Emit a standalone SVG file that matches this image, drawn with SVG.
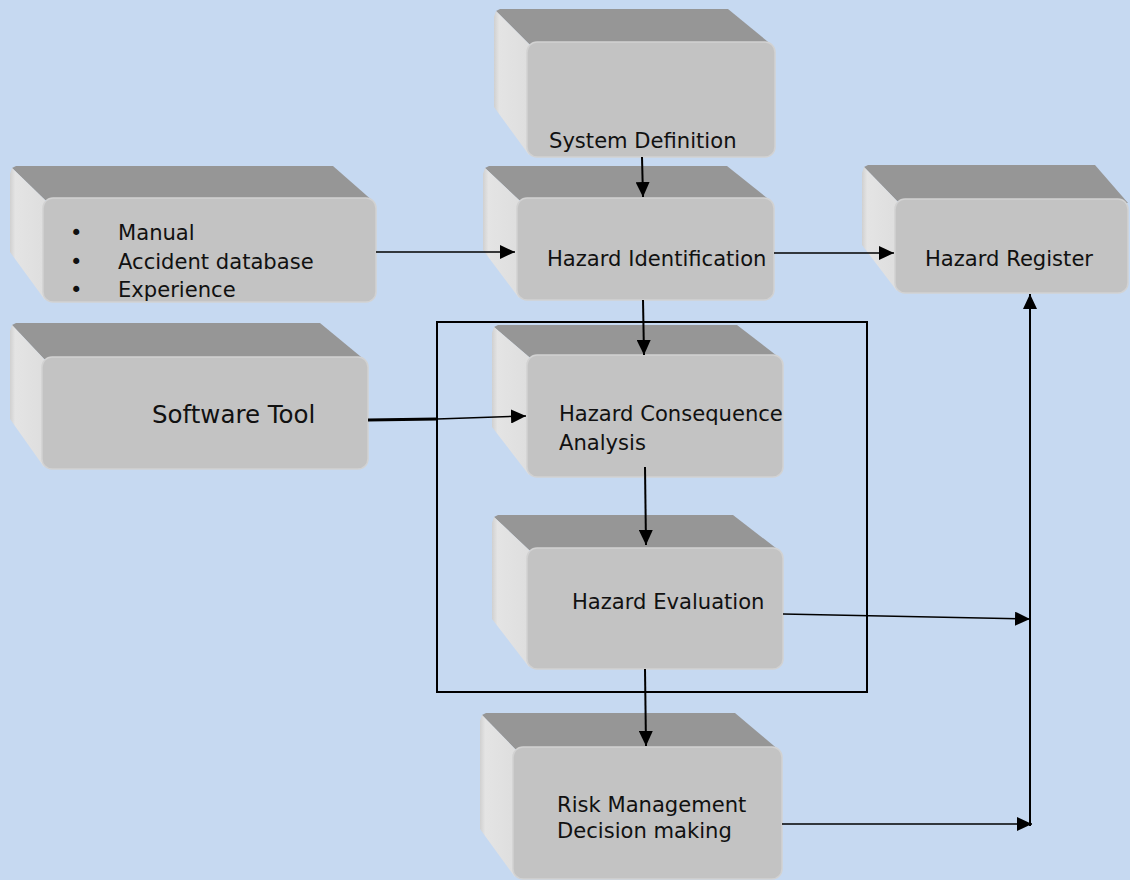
<svg xmlns="http://www.w3.org/2000/svg" width="1130" height="880" viewBox="0 0 1130 880">
<style>
.top{fill:#969696}
.left{fill:url(#lg)}
.front{fill:#c3c3c3;stroke:#d2d2d2;stroke-width:1.5}
text{font-family:"DejaVu Sans","Verdana",sans-serif;font-size:21.1px;fill:#111}
.ln{stroke:#000;stroke-width:2;fill:none}
.thin{stroke:#000;stroke-width:1.5;fill:none}
</style>
<defs>
<linearGradient id="lg" x1="0" y1="0" x2="1" y2="0">
<stop offset="0" stop-color="#d0d0d0"/>
<stop offset="0.15" stop-color="#e4e4e4"/>
<stop offset="1" stop-color="#dedede"/>
</linearGradient>
<marker id="arr" markerWidth="16" markerHeight="14" refX="15" refY="7" orient="auto" markerUnits="userSpaceOnUse">
<path d="M0,0 L15,7 L0,14 Z" fill="#000"/>
</marker>
</defs>
<rect width="1130" height="880" fill="#c6d9f1"/>

<g id="system-definition">
<polygon class="top" points="500,9 728,9 773,46 529,44 496,11"/>
<polygon class="left" points="496,11 529,44 529,155 494,107 494,17"/>
<rect class="front" x="527" y="42" width="248" height="115" rx="10"/>
<text x="549" y="148">System Definition</text>
</g>

<g id="hazard-identification">
<polygon class="top" points="489,166 727,166 772,202 519,200 485,168"/>
<polygon class="left" points="485,168 519,200 519,298 483,250 483,174"/>
<rect class="front" x="517" y="198" width="257" height="102" rx="10"/>
<text x="547" y="266">Hazard Identification</text>
</g>

<g id="sources">
<polygon class="top" points="16,166 333,166 374,202 45,200 12,168"/>
<polygon class="left" points="12,168 45,200 45,300 10,252 10,174"/>
<rect class="front" x="43" y="198" width="333" height="104" rx="10"/>
<text x="70" y="240">•</text>
<text x="118" y="240">Manual</text>
<text x="70" y="269">•</text>
<text x="118" y="269">Accident database</text>
<text x="70" y="297">•</text>
<text x="118" y="297">Experience</text>
</g>

<g id="hazard-register">
<polygon class="top" points="868,165 1095,165 1128,203 897,201 864,167"/>
<polygon class="left" points="864,167 897,201 897,291 862,245 862,173"/>
<rect class="front" x="895" y="199" width="233" height="94" rx="10"/>
<text x="925" y="266">Hazard Register</text>
</g>

<g id="software-tool">
<polygon class="top" points="16,323 320,323 366,361 44,359 12,325"/>
<polygon class="left" points="12,325 44,359 44,467 10,419 10,331"/>
<rect class="front" x="42" y="357" width="326" height="112" rx="10"/>
<text x="152" y="423" style="font-size:24.5px">Software Tool</text>
</g>

<g id="hazard-consequence">
<polygon class="top" points="498,325 737,325 781,359 529,357 494,327"/>
<polygon class="left" points="494,327 529,357 529,475 492,427 492,333"/>
<rect class="front" x="527" y="355" width="256" height="122" rx="10"/>
<text x="559" y="421">Hazard Consequence</text>
<text x="559" y="450">Analysis</text>
</g>

<g id="hazard-evaluation">
<polygon class="top" points="498,515 733,515 781,552 529,550 494,517"/>
<polygon class="left" points="494,517 529,550 529,667 492,619 492,523"/>
<rect class="front" x="527" y="548" width="256" height="121" rx="10"/>
<text x="572" y="609">Hazard Evaluation</text>
</g>

<g id="risk-management">
<polygon class="top" points="486,713 735,713 780,751 515,749 482,715"/>
<polygon class="left" points="482,715 515,749 515,877 480,829 480,721"/>
<rect class="front" x="513" y="747" width="269" height="132" rx="10"/>
<text x="557" y="812">Risk Management</text>
<text x="557" y="838">Decision making</text>
</g>

<g id="connectors">
<rect x="437" y="322" width="430" height="370" class="ln"/>
<line class="ln" x1="642" y1="157" x2="643" y2="197" marker-end="url(#arr)"/>
<line class="thin" x1="376" y1="252" x2="515" y2="252" marker-end="url(#arr)"/>
<line class="thin" x1="774" y1="253" x2="894" y2="253" marker-end="url(#arr)"/>
<line class="ln" x1="643" y1="300" x2="644" y2="355" marker-end="url(#arr)"/>
<line x1="368" y1="420" x2="437" y2="419" stroke="#000" stroke-width="3"/>
<line class="thin" x1="437" y1="419" x2="526" y2="416" marker-end="url(#arr)"/>
<line class="ln" x1="645" y1="467" x2="646" y2="545" marker-end="url(#arr)"/>
<line class="ln" x1="645" y1="669" x2="646" y2="746" marker-end="url(#arr)"/>
<line class="thin" x1="783" y1="614" x2="1030" y2="619" marker-end="url(#arr)"/>
<line class="thin" x1="782" y1="824" x2="1032" y2="824" marker-end="url(#arr)"/>
<line class="ln" x1="1030" y1="826" x2="1030" y2="294" marker-end="url(#arr)"/>
</g>
</svg>
